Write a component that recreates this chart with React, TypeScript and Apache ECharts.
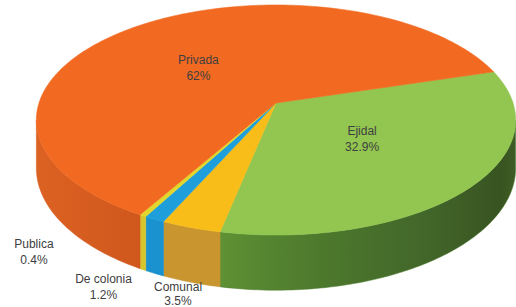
import React, { useEffect, useRef } from 'react';
import * as echarts from 'echarts';

const categories = ['Ejidal', 'Comunal', 'De colonia', 'Publica', 'Privada'];
const values = [32.9, 3.5, 1.2, 0.4, 62];
const topColors = ['#92C650', '#F8BD19', '#1E9FDB', '#E2D62C', '#F26A22'];
const sideColors = ['#4E7C2D', '#C9952F', '#1A92CF', '#D6C52C', '#D75B1E'];

// layout / projection constants
const START = -16.8; // degrees, clockwise on screen from the right
const CX = 276;
const CY = 103;
const RX = 237;
const RY = 112.5;
const PA = 0.148; // perspective amount
const H = 47; // thickness
const LABEL_SHIFT: number[][] = [
  [-6, -4],
  [-13, 12],
  [-51, 14],
  [-109, -18],
  [-8, 7],
];
const LABEL_LH = [16, 14, 16, 16, 16];
const OUTSIDE = [false, true, true, true, false];

function proj(deg: number, r: number, h: number): number[] {
  const t = (deg * Math.PI) / 180;
  const c = Math.cos(t) * r;
  const s = Math.sin(t) * r;
  const f = 1 / (1 - PA * s);
  return [CX + RX * c * f, CY + (RY * s + h) * f];
}

function arc(a0: number, a1: number, h: number): number[][] {
  const pts: number[][] = [];
  const n = Math.max(2, Math.ceil(Math.abs(a1 - a0) / 1));
  for (let i = 0; i <= n; i++) {
    pts.push(proj(a0 + ((a1 - a0) * i) / n, 1, h));
  }
  return pts;
}

export default function App() {
  const ref = useRef<HTMLDivElement>(null);
  useEffect(() => {
    if (!ref.current) return;
    const chart = echarts.init(ref.current, undefined, { renderer: 'svg' });
    const total = values.reduce((a, b) => a + b, 0);
    const silh = (Math.asin(PA) * 180) / Math.PI;

    const greenGrad = new echarts.graphic.LinearGradient(
      222, 0, 515, 0,
      [
        { offset: 0, color: '#5E9034' },
        { offset: 0.3, color: '#4E7B2D' },
        { offset: 0.7, color: '#42662A' },
        { offset: 0.95, color: '#385421' },
        { offset: 1, color: '#3E5C25' },
      ],
      true
    );
    const orangeGrad = new echarts.graphic.LinearGradient(
      37, 0, 145, 0,
      [
        { offset: 0, color: '#DC6222' },
        { offset: 1, color: '#CF571D' },
      ],
      true
    );

    const renderItem = (params: any, api: any) => {
      const idx = params.dataIndex;
      let before = 0;
      for (let i = 0; i < idx; i++) before += values[i];
      const v = api.value(0);
      const a0 = START + (before / total) * 360;
      const a1 = a0 + (v / total) * 360;
      const children: any[] = [];

      // side wall (front visible part)
      const w0 = Math.max(a0, silh);
      const w1 = Math.min(a1, 180 - silh);
      if (w1 > w0) {
        const top = arc(w0, w1, 0);
        const bot = arc(w0, w1, H).reverse();
        let fill: any = sideColors[idx];
        if (idx === 0) fill = greenGrad;
        if (idx === 4) fill = orangeGrad;
        children.push({
          type: 'polygon',
          z2: 1,
          shape: { points: top.concat(bot) },
          style: { fill, stroke: sideColors[idx], lineWidth: 0.5 },
        });
      }

      // top face
      const pts = [proj(0, 0, 0)].concat(arc(a0, a1, 0));
      children.push({
        type: 'polygon',
        z2: 10,
        shape: { points: pts },
        style: { fill: topColors[idx], stroke: topColors[idx], lineWidth: 0.6 },
      });

      // label
      const mid = (a0 + a1) / 2;
      const anchor = OUTSIDE[idx] ? proj(mid, 1, H) : proj(mid, 0.5, 0);
      const sh = LABEL_SHIFT[idx];
      children.push({
        type: 'text',
        z2: 20,
        x: anchor[0] + sh[0],
        y: anchor[1] + sh[1],
        style: {
          text: categories[idx] + '\n' + values[idx] + '%',
          fill: '#404040',
          font: '12px "Liberation Sans", Arial, sans-serif',
          align: 'center',
          verticalAlign: 'middle',
          lineHeight: LABEL_LH[idx],
        },
      });

      return { type: 'group', children };
    };

    chart.setOption({
      animation: false,
      backgroundColor: '#ffffff',
      series: [
        {
          type: 'custom',
          coordinateSystem: 'none',
          renderItem,
          data: values.map((v, i) => ({ name: categories[i], value: [v] })),
        },
      ],
    });
    return () => chart.dispose();
  }, []);
  return (
    <div
      ref={ref}
      style={{ position: 'fixed', left: 0, top: 0, width: 516, height: 307 }}
    />
  );
}
